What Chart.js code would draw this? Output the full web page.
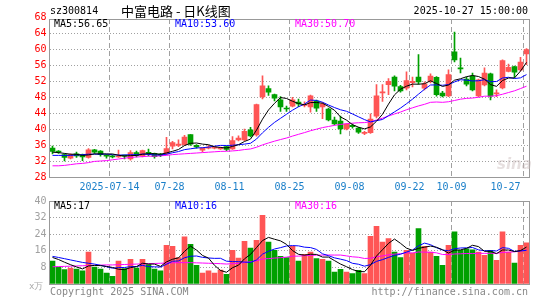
<!DOCTYPE html>
<html><head><meta charset="utf-8">
<script src="https://cdn.jsdelivr.net/npm/chart.js@4/dist/chart.umd.min.js"></script>
<style>
html,body{margin:0;padding:0;background:#fff;}
#wrap{position:relative;width:545px;height:300px;overflow:hidden;font-family:'DejaVu Sans Mono',monospace;font-size:10px;}
canvas{position:absolute;left:0;}
.t{position:absolute;white-space:pre;line-height:12px;}
</style></head><body>
<div id="wrap">
<canvas id="pc" width="545" height="195" style="top:0"></canvas>
<canvas id="vc" width="545" height="105" style="top:195px"></canvas>
<div class="t" style="left:50px;top:5px;color:#000;">sz300814</div>
<div class="t" style="left:121px;top:3px;line-height:16px;font-family:'Noto Sans CJK SC',sans-serif;font-size:13px;color:#000;">中富电路 - 日K线图</div>
<div class="t" style="right:17px;top:5px;color:#000;">2025-10-27 15:00:00</div>
<div class="t" style="left:54px;top:18px;color:#000;">MA5:56.65</div>
<div class="t" style="left:175px;top:18px;color:#0000ff;">MA10:53.60</div>
<div class="t" style="left:295px;top:18px;color:#ff00ff;">MA30:50.70</div>
<div class="t" style="left:54px;top:200px;color:#000;">MA5:17</div>
<div class="t" style="left:175px;top:200px;color:#0000ff;">MA10:16</div>
<div class="t" style="left:295px;top:200px;color:#ff00ff;">MA30:16</div>
<div class="t" style="left:29px;top:280px;color:#aaa;font-size:9px;">x万</div>
<div class="t" style="left:50px;top:286px;color:#888;">Copyright 2025 SINA.COM</div>
<div class="t" style="right:17px;top:286px;color:#888;">http://finance.sina.com.cn</div>
<div class="t" style="left:497px;top:156px;color:rgba(200,185,185,0.45);font-family:'DejaVu Sans',sans-serif;font-style:italic;font-weight:bold;font-size:15px;line-height:16px;">sina</div>
</div>
<script>
const dates = ['2025-06-30','2025-07-01','2025-07-02','2025-07-03','2025-07-04','2025-07-07','2025-07-08','2025-07-09','2025-07-10','2025-07-11',
'2025-07-14','2025-07-15','2025-07-16','2025-07-17','2025-07-18','2025-07-21','2025-07-22','2025-07-23','2025-07-24','2025-07-25',
'2025-07-28','2025-07-29','2025-07-30','2025-07-31','2025-08-01','2025-08-04','2025-08-05','2025-08-06','2025-08-07','2025-08-08',
'2025-08-11','2025-08-12','2025-08-13','2025-08-14','2025-08-15','2025-08-18','2025-08-19','2025-08-20','2025-08-21','2025-08-22',
'2025-08-25','2025-08-26','2025-08-27','2025-08-28','2025-08-29','2025-09-01','2025-09-02','2025-09-03','2025-09-04','2025-09-05',
'2025-09-08','2025-09-09','2025-09-10','2025-09-11','2025-09-12','2025-09-15','2025-09-16','2025-09-17','2025-09-18','2025-09-19',
'2025-09-22','2025-09-23','2025-09-24','2025-09-25','2025-09-26','2025-09-29','2025-09-30','2025-10-09','2025-10-10','2025-10-13',
'2025-10-14','2025-10-15','2025-10-16','2025-10-17','2025-10-20','2025-10-21','2025-10-22','2025-10-23','2025-10-24','2025-10-27'];

const open = [35.25,34.4,33.6,32.7,33.8,33.5,32.9,34.8,34.5,33.5,
33.3,33.0,33.4,32.5,34.1,33.3,34.1,33.9,33.7,33.8,
35.7,35.9,36.1,38.6,35.9,34.7,35.2,35.2,35.0,35.6,
35.0,37.3,37.3,39.8,38.5,48.0,50.1,48.6,47.3,45.2,
45.7,46.7,45.9,45.5,47.0,45.5,45.0,42.2,42.0,40.0,
40.9,40.2,38.9,39.1,43.2,49.0,51.1,53.0,50.6,50.2,
51.6,53.0,50.2,51.9,52.9,49.0,48.3,59.3,55.3,52.5,
53.2,48.3,51.0,53.8,48.8,50.3,54.4,55.6,54.8,58.8];
const high = [35.7,34.6,33.8,33.8,34.2,33.7,35.1,34.9,34.6,33.6,
33.5,34.7,33.5,34.6,34.5,34.7,35.0,34.0,33.9,37.9,
36.9,37.3,38.4,38.6,36.1,35.3,35.9,35.6,35.5,35.7,
38.1,38.3,40.0,40.4,46.2,53.3,50.8,48.7,48.1,45.7,
47.9,47.5,46.8,48.5,47.2,46.6,45.2,43.0,43.2,41.3,
41.3,40.4,39.4,43.8,51.1,51.1,52.6,53.3,50.9,54.3,
53.0,58.6,51.8,53.8,53.1,49.4,54.8,64.2,57.7,53.0,
54.0,52.5,55.3,54.0,49.8,57.3,56.2,55.7,57.9,60.1];
const low = [33.8,33.9,32.0,32.5,32.9,32.1,32.7,33.9,33.2,32.7,
32.8,32.9,32.5,32.2,33.0,33.0,33.3,32.7,33.1,33.5,
35.0,35.6,35.9,35.9,35.2,34.3,35.0,35.0,34.9,34.6,
34.9,37.0,37.1,38.0,38.2,47.5,48.4,47.0,44.4,44.4,
45.5,45.6,45.5,44.2,44.4,42.6,42.0,41.0,38.8,39.8,
40.2,38.9,38.6,38.9,42.8,46.9,48.6,49.5,49.2,49.8,
50.5,51.2,49.8,51.5,48.2,48.0,48.1,56.8,54.0,50.8,
49.5,48.0,50.8,47.3,48.1,50.0,54.3,52.9,54.5,56.1];
const close = [34.4,34.2,32.9,33.6,33.3,33.0,34.8,34.2,33.6,33.2,
33.0,33.2,33.2,34.1,33.4,34.6,33.9,33.1,33.4,35.1,
36.6,36.2,38.0,36.2,35.5,35.2,35.5,35.4,35.3,34.9,
37.1,37.7,39.4,38.3,46.1,50.8,49.2,47.7,45.5,45.0,
47.3,46.3,46.1,48.3,45.2,46.3,42.3,41.3,40.0,41.2,
40.6,39.2,39.1,42.5,48.3,49.3,51.9,50.7,49.5,52.1,
51.9,51.8,51.3,53.2,48.6,48.3,53.6,57.3,55.0,51.2,
49.8,52.3,54.0,48.2,49.0,57.1,55.4,54.2,56.7,59.85];

const ma5 = [34.2,34.1,33.9,33.7,33.68,33.4,33.52,33.78,33.78,33.76,
33.76,33.44,33.24,33.34,33.38,33.7,33.84,33.82,33.68,34.02,
34.42,34.88,35.86,36.42,36.5,36.22,36.08,35.56,35.38,35.26,
35.64,36.08,36.88,37.48,39.72,42.46,44.76,46.42,47.86,47.64,
46.94,46.36,46.04,46.6,46.64,46.44,45.64,44.68,43.02,42.22,
41.08,40.46,40.02,40.52,41.94,43.68,46.22,48.54,49.94,50.7,
51.22,51.2,51.32,52.06,51.36,50.64,51.0,52.2,52.56,53.08,
53.38,53.12,52.46,51.1,50.66,52.12,52.74,52.78,54.48,56.65];
const ma10 = [33.4,33.4,33.4,33.4,33.5,33.6,33.7,33.7,33.7,33.72,
33.58,33.48,33.51,33.56,33.57,33.73,33.64,33.53,33.51,33.7,
34.06,34.36,34.84,35.05,35.26,35.32,35.48,35.71,35.9,35.88,
35.93,36.08,36.22,36.43,37.49,39.05,40.42,41.65,42.67,43.68,
44.7,45.56,46.23,47.23,47.14,46.69,46.0,45.36,44.81,44.43,
43.76,43.05,42.35,41.77,42.08,42.38,43.34,44.28,45.23,46.32,
47.45,48.71,49.93,51.0,51.03,50.93,51.1,51.76,52.31,52.22,
52.01,52.06,52.33,51.83,51.87,52.75,52.93,52.62,52.79,53.6];
const ma30 = [30.8,30.8,30.9,31.1,31.3,31.4,31.6,31.9,32.0,32.1,
32.3,32.5,32.7,32.9,33.0,33.1,33.2,33.2,33.3,33.4,
33.6,33.7,33.8,33.9,34.0,34.1,34.2,34.3,34.4,34.43,
34.52,34.64,34.86,35.01,35.44,36.03,36.51,36.96,37.36,37.75,
38.23,38.67,39.1,39.57,39.96,40.35,40.63,40.91,41.13,41.33,
41.46,41.56,41.6,41.81,42.24,42.71,43.25,43.76,44.24,44.81,
45.3,45.77,46.17,46.67,46.75,46.67,46.81,47.13,47.45,47.66,
47.74,47.94,48.2,48.2,48.33,48.69,49.12,49.55,50.11,50.7];

const volume = [11.1,8.2,6.9,7.7,7.2,6.3,15.4,8.2,7.2,5.3,
3.7,11.1,7.4,11.9,7.7,11.9,9.3,7.2,6.3,18.6,
18.2,12.7,22.7,19.1,9.0,5.3,6.3,5.3,6.7,4.7,
16.2,12.5,20.6,17.3,21.1,33.1,20.2,16.2,13.3,12.7,
18.2,11.1,14.3,15.4,12.2,11.9,11.1,5.8,7.1,5.8,
5.0,6.6,5.0,23.0,27.8,20.2,21.9,15.4,12.7,16.2,
14.9,26.7,18.2,15.4,13.3,9.0,18.6,25.1,16.2,16.9,
16.5,15.4,13.8,16.2,11.4,25.1,15.4,10.1,18.6,19.8];
const vma5 = [12.8,11.8,10.5,9.3,8.22,7.26,8.7,8.96,8.86,8.48,
7.96,7.1,6.94,7.88,8.36,10.0,9.64,9.6,8.48,10.66,
11.92,12.6,15.7,18.26,16.34,13.76,12.48,9.0,6.52,5.66,
7.84,9.08,12.14,14.26,17.54,20.92,22.46,21.58,20.78,19.1,
16.12,14.3,13.92,14.34,14.24,12.98,12.98,11.28,9.62,8.34,
6.96,6.06,5.9,9.08,13.48,16.52,19.58,21.66,19.6,17.28,
16.22,17.18,17.74,18.28,17.7,16.52,14.9,16.28,16.44,17.16,
18.66,18.02,15.76,15.76,14.66,16.38,16.38,15.64,16.12,17.8];
const vma10 = [13.3,12.8,12.2,11.6,11.0,10.4,10.0,9.6,9.0,8.35,
7.61,7.9,7.95,8.37,8.42,8.98,8.37,8.27,8.18,9.51,
10.96,11.12,12.65,13.37,13.5,12.84,12.54,12.35,12.39,11.0,
10.8,10.78,10.57,10.39,11.6,14.38,15.77,16.86,17.52,18.32,
18.52,18.38,17.75,17.56,16.67,14.55,13.64,12.6,11.98,11.29,
9.97,9.52,8.59,9.35,10.91,11.74,12.82,13.78,14.34,15.38,
16.37,18.38,19.7,18.94,17.49,16.37,16.04,17.01,17.36,17.43,
17.59,16.46,16.02,16.1,15.91,17.52,17.2,15.7,15.94,16.23];
const vma30 = [8.3,8.4,8.5,8.6,8.7,8.8,8.9,9.0,9.1,9.2,
9.2,9.3,9.4,9.5,9.6,9.7,9.8,9.9,10.0,10.1,
10.2,10.3,10.3,10.3,10.2,10.1,10.0,9.9,9.8,9.62,
9.79,9.93,10.39,10.71,11.17,12.07,12.23,12.49,12.7,12.94,
13.43,13.43,13.66,13.77,13.92,13.92,13.98,13.94,13.96,13.54,
13.1,12.89,12.3,12.43,13.06,13.56,14.08,14.41,14.61,15.0,
14.95,15.43,15.35,15.28,15.02,14.22,14.17,14.46,14.56,14.7,
14.64,14.79,14.77,14.8,14.77,15.21,15.35,15.5,15.88,16.35];

const priceTicks = [28,32,36,40,44,48,52,56,60,64,68];
const volTicks = [0,8,16,24,32,40];
const tickDates = ['2025-07-14','2025-07-28','2025-08-11','2025-08-25','2025-09-08','2025-09-22','2025-10-09','2025-10-27'];
const tickText = ['2025-07-14','07-28','08-11','08-25','09-08','09-22','10-09','10-27'];

const RED = '#ff5555', GREEN = '#00a000', GRID = '#a0a0a0', FRAME = '#999999';
const N = dates.length;
const gridIdx = tickDates.map(d => dates.indexOf(d));
// last label is kept inside the frame, as the original does
const labelAt = {};
gridIdx.forEach((ix, k) => { labelAt[Math.min(ix, N - 4)] = tickText[k]; });
const barColor = close.map((c, i) => c >= open[i] ? RED : GREEN);
const mono = {family: "'DejaVu Sans Mono', monospace", size: 10};

const frame = {
  id: 'frame',
  afterDraw(chart) {
    const {ctx, chartArea: a} = chart;
    ctx.save();
    ctx.strokeStyle = FRAME; ctx.lineWidth = 1;
    const l = Math.floor(a.left) + 0.5, t = Math.floor(a.top) + 0.5;
    const r = Math.floor(a.right) + 0.5, b = Math.floor(a.bottom) + 0.5;
    ctx.strokeRect(l, t, r - l, b - t);
    ctx.restore();
  }
};

const xScale = (showLabels) => ({
  offset: true,
  grid: {offset: true, drawTicks: false, lineWidth: 1,
    color: ctx => gridIdx.includes(ctx.index) ? GRID : 'rgba(0,0,0,0)'},
  border: {display: false, dash: [5, 3]},
  ticks: {display: showLabels, autoSkip: false, maxRotation: 0, minRotation: 0,
    color: '#1a7fc9', font: mono, padding: 4, labelOffset: -3,
    callback: (v, i) => labelAt[i] || ''},
  afterFit: s => { s.height = showLabels ? 18 : 0; s.paddingLeft = 0; s.paddingRight = 0; }
});

const lineDs = (data, color) => ({type: 'line', data, borderColor: color, borderWidth: 1,
  pointRadius: 0, tension: 0, fill: false, order: 0});

new Chart(document.getElementById('pc'), {
  type: 'bar',
  data: {
    labels: dates,
    datasets: [
      lineDs(ma5, '#000000'), lineDs(ma10, '#0000ff'), lineDs(ma30, '#ff00ff'),
      {data: low.map((l, i) => [l, high[i]]), backgroundColor: barColor, barThickness: 1,
        grouped: false, borderWidth: 0, order: 2},
      {data: open.map((o, i) => [o, close[i]]), backgroundColor: barColor, barThickness: 5,
        grouped: false, borderWidth: 0, minBarLength: 1, order: 1}
    ]
  },
  options: {
    responsive: false, animation: false, events: [],
    layout: {padding: {top: 19, right: 15.5, bottom: 0, left: 0}},
    plugins: {legend: {display: false}, tooltip: {enabled: false}},
    scales: {
      x: xScale(true),
      y: {
        min: 28, max: 67.5,
        afterBuildTicks: s => { s.ticks = priceTicks.map(v => ({value: v})); },
        grid: {drawTicks: false, lineWidth: 1,
          color: ctx => (ctx.tick && ctx.tick.value > 67.5) ? 'rgba(0,0,0,0)' : GRID},
        border: {display: false, dash: [1, 2]},
        ticks: {color: '#ff0000', font: mono, padding: 3},
        afterFit: s => { s.width = 49.5; s.paddingTop = 0; s.paddingBottom = 0; }
      }
    }
  },
  plugins: [frame]
});

new Chart(document.getElementById('vc'), {
  type: 'bar',
  data: {
    labels: dates,
    datasets: [
      lineDs(vma5, '#000000'), lineDs(vma10, '#0000ff'), lineDs(vma30, '#ff00ff'),
      {data: volume, backgroundColor: barColor, barThickness: 5, grouped: false, borderWidth: 0, order: 1}
    ]
  },
  options: {
    responsive: false, animation: false, events: [],
    layout: {padding: {top: 6, right: 15.5, bottom: 16, left: 0}},
    plugins: {legend: {display: false}, tooltip: {enabled: false}},
    scales: {
      x: xScale(false),
      y: {
        min: 0, max: 40,
        afterBuildTicks: s => { s.ticks = volTicks.map(v => ({value: v})); },
        grid: {drawTicks: false, lineWidth: 1,
          color: ctx => (ctx.tick && ctx.tick.value === 0) ? 'rgba(0,0,0,0)' : GRID},
        border: {display: false, dash: [1, 2]},
        ticks: {color: '#a0a0a0', font: mono, padding: 3, callback: v => v === 0 ? '' : v},
        afterFit: s => { s.width = 49.5; s.paddingTop = 0; s.paddingBottom = 0; }
      }
    }
  },
  plugins: [frame]
});
</script>
</body></html>
